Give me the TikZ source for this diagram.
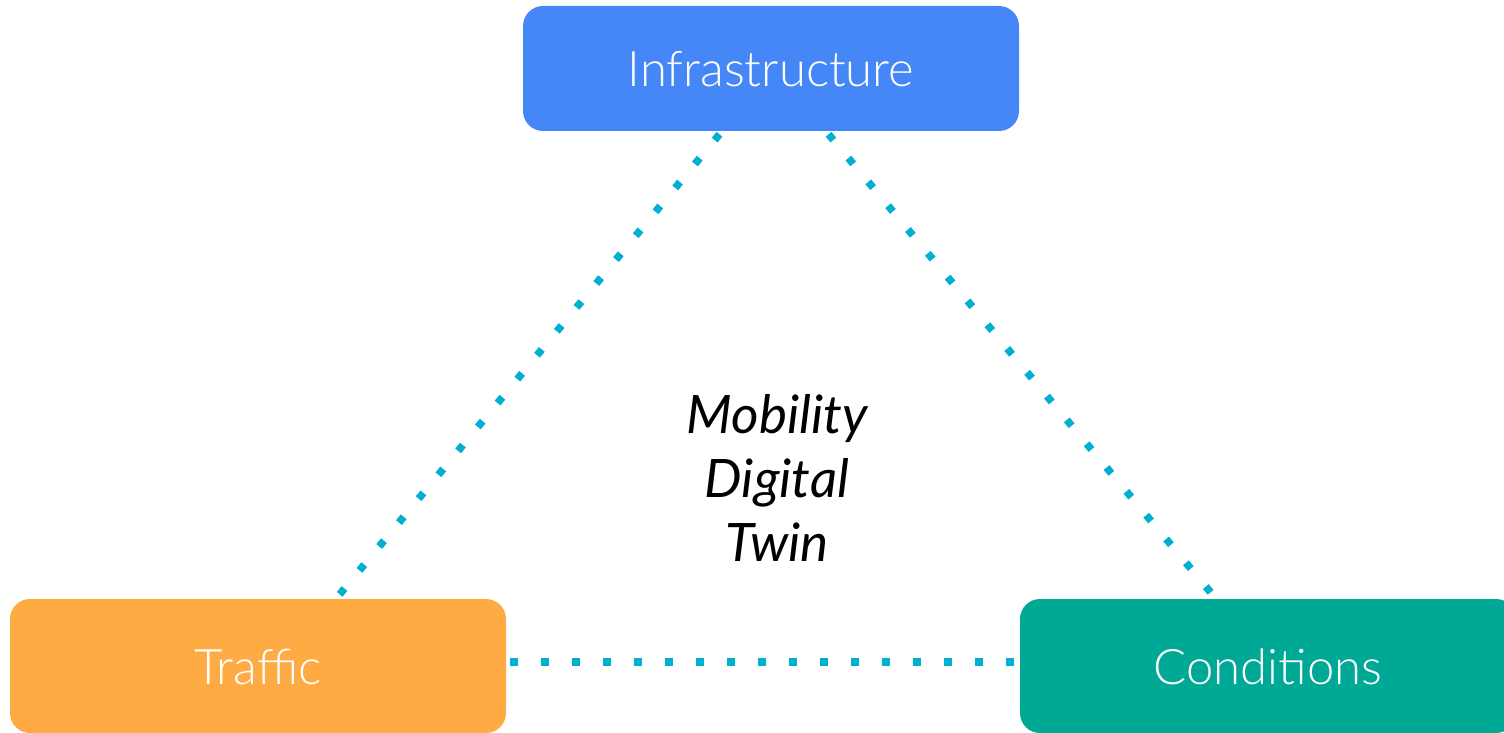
\documentclass[tikz,border=0pt]{standalone}
\usepackage{fontspec}
\setmainfont{Lato}
\newfontfamily\lightfont{Lato Light}
\usetikzlibrary{backgrounds}
\definecolor{infblue}{HTML}{4587F6}
\definecolor{trforange}{HTML}{FFAB44}
\definecolor{condteal}{HTML}{00A896}
\definecolor{dotcyan}{HTML}{00AFD2}
\tikzset{
  box/.style={rectangle, rounded corners=20pt, minimum width=496pt, inner sep=0pt,
    text=white, font=\lightfont\fontsize{49}{58}\selectfont, text height=36pt, text depth=0pt},
  dotline/.style={draw=dotcyan, line width=7.5pt, dash pattern=on 7.5pt off 23.5pt, dash phase=-4pt}
}
\begin{document}
\begin{tikzpicture}[x=1pt,y=-1pt]
\useasboundingbox (0,0) rectangle (1504,733);
\node[box, fill=infblue, minimum height=125pt] (I) at (771,68.5) {Infrastructure};
\node[box, fill=trforange, minimum height=134pt] (T) at (258,666) {Traffic};
\node[box, fill=condteal, minimum height=134pt] (C) at (1268,666) {Conditions};
\node[align=center, font=\itshape\fontsize{53}{64}\selectfont, text=black] (M) at (777,478) {Mobility\\Digital\\Twin};
\begin{scope}[on background layer]
\draw[dotline] ([xshift=-49pt]I.south) -- ([xshift=78pt]T.north);
\draw[dotline] ([xshift=55pt]I.south) -- ([xshift=-52pt]C.north);
\draw[dotline] ([yshift=4pt]T.east) -- ([yshift=4pt]C.west);
\end{scope}
\end{tikzpicture}
\end{document}
